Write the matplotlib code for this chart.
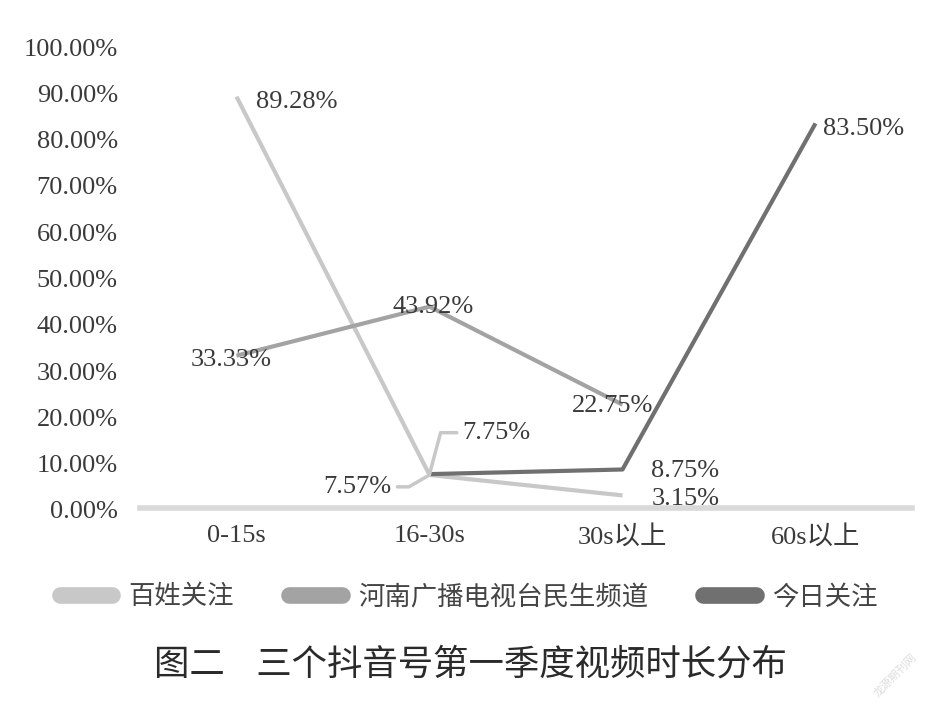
import matplotlib.pyplot as plt

plt.rcParams['font.family'] = ['Liberation Serif', 'Noto Sans CJK SC', 'DejaVu Sans']

# data
categories = ['0-15s', '16-30s', '30s以上', '60s以上']
series_names = ['百姓关注', '河南广播电视台民生频道', '今日关注']
baixing = [89.28, 7.57, 3.15]          # 0-15s, 16-30s, 30s以上
henan = [33.33, 43.92, 22.75]          # 0-15s, 16-30s, 30s以上
jinri = [7.75, 8.75, 83.50]            # 16-30s, 30s以上, 60s以上
yticks = [0, 10, 20, 30, 40, 50, 60, 70, 80, 90, 100]

colors = ['#c8c8c8', '#a3a3a3', '#707070']
txt = '#3a3a3a'

fig = plt.figure(figsize=(9.37, 7.15), dpi=100)
ax = fig.add_axes([140 / 937, (715 - 510) / 715, (912 - 140) / 937, 463 / 715])

x_b = [0, 1, 2]
x_h = [0, 1, 2]
x_j = [1, 2, 3]
ax.plot(x_b, baixing, color=colors[0], lw=3, solid_capstyle='butt', label=series_names[0])
ax.plot(x_h, henan, color=colors[1], lw=3, solid_capstyle='butt', label=series_names[1])
ax.plot(x_j, jinri, color=colors[2], lw=3, solid_capstyle='butt', label=series_names[2])

for s in ['top', 'right', 'left']:
    ax.spines[s].set_visible(False)
ax.spines['bottom'].set_color('#d9d9d9')
ax.spines['bottom'].set_linewidth(4)
ax.spines['bottom'].set_position(('data', 0.4))

ax.set_xlim(-0.5, 3.5)
ax.set_ylim(0, 100)
ax.set_xticks(range(len(categories)))
ax.set_xticklabels(categories)
ax.set_yticks(yticks)
ax.set_yticklabels(['%.2f%%' % v for v in yticks])
ax.tick_params(length=0, labelsize=19, labelcolor=txt)
ax.tick_params(axis='y', pad=16)
ax.tick_params(axis='x', pad=12)

fs = 19
# data labels
ax.text(x_b[0] + 0.1, baixing[0] - 1.2, '%.2f%%' % baixing[0], fontsize=fs, color=txt, va='center', ha='left')
ax.text(x_b[2] + 0.15, baixing[2] - 0.8, '%.2f%%' % baixing[2], fontsize=fs, color=txt, va='center', ha='left')
ax.annotate('%.2f%%' % baixing[1], xy=(x_b[1], baixing[1]), xytext=(0.805, 5.0),
            fontsize=fs, color=txt, ha='right', va='center',
            arrowprops=dict(arrowstyle='-', color=colors[0], lw=2.5, relpos=(1, 0.5),
                            shrinkA=2, shrinkB=0,
                            connectionstyle='angle,angleA=0,angleB=-150,rad=0'))
ax.text(x_h[0] - 0.03, henan[0] - 1.0, '%.2f%%' % henan[0], fontsize=fs, color=txt, va='center', ha='center')
ax.text(x_h[1] + 0.02, henan[1], '%.2f%%' % henan[1], fontsize=fs, color=txt, va='center', ha='center')
ax.text(x_h[2] - 0.05, henan[2] - 0.2, '%.2f%%' % henan[2], fontsize=fs, color=txt, va='center', ha='center')
ax.annotate('%.2f%%' % jinri[0], xy=(x_j[0], jinri[0]), xytext=(1.17, 16.7),
            fontsize=fs, color=txt, ha='left', va='center',
            arrowprops=dict(arrowstyle='-', color=colors[0], lw=2.5, relpos=(0, 0.5),
                            shrinkA=2, shrinkB=0,
                            connectionstyle='angle,angleA=0,angleB=75,rad=0'))
ax.text(x_j[1] + 0.15, jinri[1] - 0.3, '%.2f%%' % jinri[1], fontsize=fs, color=txt, va='center', ha='left')
ax.text(x_j[2] + 0.04, jinri[2] - 1.2, '%.2f%%' % jinri[2], fontsize=fs, color=txt, va='center', ha='left')

leg = fig.legend(loc='center', bbox_to_anchor=(0.5, (715 - 597) / 715), ncol=3, frameon=False,
                 prop={'family': ['Noto Sans CJK SC'], 'size': 19}, handlelength=2.0,
                 columnspacing=2.1, handletextpad=0.6)
for line in leg.get_lines():
    line.set_linewidth(12)
    line.set_solid_capstyle('round')
for t in leg.get_texts():
    t.set_color('#444444')

fig.text(470 / 937, (715 - 665) / 715, '图二    三个抖音号第一季度视频时长分布', ha='center', va='center',
         fontsize=25.5, color='#2a2a2a', family=['Noto Sans CJK SC'])
fig.text(895 / 937, (715 - 675) / 715, '龙源期刊网', ha='center', va='center', rotation=45,
         fontsize=8, color='#dddddd', family=['Noto Sans CJK SC'])

fig.savefig('out.png', dpi=100)
